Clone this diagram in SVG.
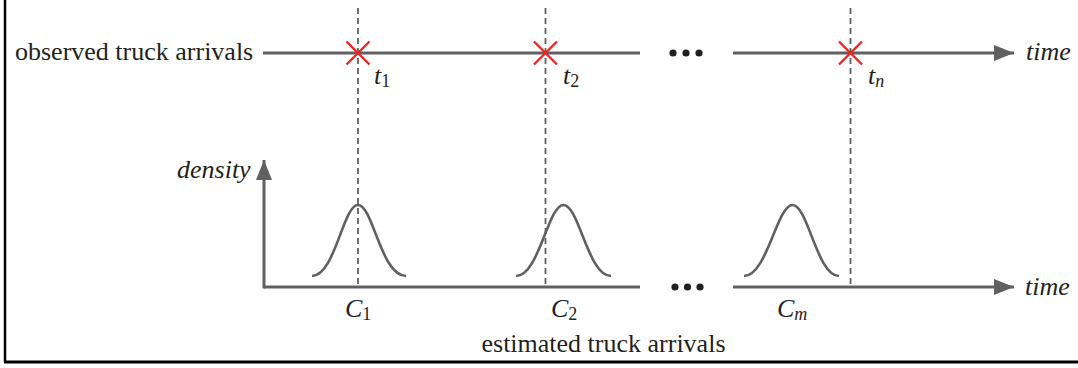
<svg xmlns="http://www.w3.org/2000/svg" width="1078" height="368" viewBox="0 0 1078 368">
<style>
.ax{stroke:#606060;stroke-width:3;fill:none}
.dash{stroke:#606060;stroke-width:1.8;stroke-dasharray:6,4;fill:none}
.cross{stroke:#ee2424;stroke-width:2.4;fill:none}
.curve{stroke:#606060;stroke-width:2.6;fill:none}
.t{font-family:"Liberation Serif","Times New Roman",serif;font-size:26px;fill:#231f20}
.i{font-style:italic}
.sub{font-size:18px;font-style:normal}
.sub.si{font-style:italic}
.dot{fill:#231f20}
</style>
<defs>
<marker id="ah" viewBox="0 0 20 16" refX="20" refY="8" markerWidth="20" markerHeight="16" markerUnits="userSpaceOnUse" orient="auto">
<path d="M0,0 L20,8 L0,16 Z" fill="#606060"/>
</marker>
</defs>
<g id="frame">
<line x1="5" y1="0" x2="5" y2="362" stroke="#000" stroke-width="2.5"/>
<line x1="4" y1="362" x2="1078" y2="362" stroke="#000" stroke-width="3"/>
</g>
<g id="connectors">
<line class="dash" x1="358" y1="8" x2="358" y2="287"/>
<line class="dash" x1="545.5" y1="8" x2="545.5" y2="287"/>
<line class="dash" x1="850.5" y1="8" x2="850.5" y2="287"/>
<line class="ax" x1="263" y1="53" x2="640" y2="53"/>
<line class="ax" x1="733" y1="53" x2="1014" y2="53" marker-end="url(#ah)"/>
<line class="ax" x1="264" y1="287" x2="640" y2="287"/>
<line class="ax" x1="733" y1="287" x2="1014" y2="287" marker-end="url(#ah)"/>
<line class="ax" x1="264" y1="288.5" x2="264" y2="160" marker-end="url(#ah)"/>
</g>
<g id="observed">
<text class="t" x="15" y="60">observed truck arrivals</text>
<text class="t i" x="1026" y="60">time</text>
<circle class="dot" cx="673" cy="53" r="3.6"/>
<circle class="dot" cx="686" cy="53" r="3.6"/>
<circle class="dot" cx="699" cy="53" r="3.6"/>
</g>
<g id="t1">
<path class="cross" d="M346.5,41.5 L369.5,64.5 M369.5,41.5 L346.5,64.5"/>
<text class="t i" x="374" y="84">t<tspan class="sub" dy="3">1</tspan></text>
</g>
<g id="t2">
<path class="cross" d="M534,41.5 L557,64.5 M557,41.5 L534,64.5"/>
<text class="t i" x="563" y="84">t<tspan class="sub" dy="3">2</tspan></text>
</g>
<g id="tn">
<path class="cross" d="M839,41.5 L862,64.5 M862,41.5 L839,64.5"/>
<text class="t i" x="868" y="84">t<tspan class="sub si" dy="3">n</tspan></text>
</g>
<g id="estimated">
<text class="t i" x="177" y="178">density</text>
<text class="t i" x="1025" y="295">time</text>
<circle class="dot" cx="675" cy="287" r="3.6"/>
<circle class="dot" cx="687.5" cy="287" r="3.6"/>
<circle class="dot" cx="700" cy="287" r="3.6"/>
<text class="t" x="603.5" y="352" text-anchor="middle">estimated truck arrivals</text>
</g>
<g id="c1">
<path class="curve" d="M312,276 C335,276 343,205 358,205 C373,205 381,276 406,276"/>
<text class="t i" x="345" y="317">C<tspan class="sub" dy="3">1</tspan></text>
</g>
<g id="c2">
<path class="curve" d="M516,276 C539,276 548,205 563.5,205 C579,205 588,276 611,276"/>
<text class="t i" x="551" y="317">C<tspan class="sub" dy="3">2</tspan></text>
</g>
<g id="cm">
<path class="curve" d="M744,276 C767,276 777,205 792.5,205 C808,205 817,276 839,276"/>
<text class="t i" x="777" y="317">C<tspan class="sub si" dy="3">m</tspan></text>
</g>
</svg>
